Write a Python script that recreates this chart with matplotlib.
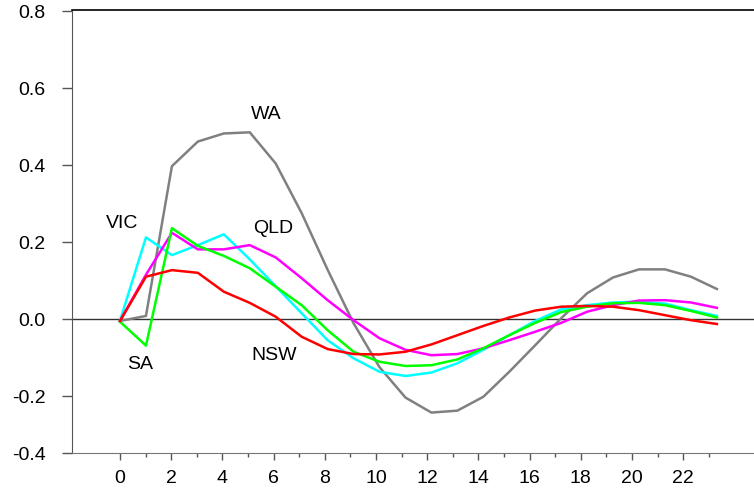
import matplotlib.pyplot as plt
import numpy as np

plt.rcParams['font.family'] = ['Liberation Sans', 'DejaVu Sans']

# horizon 0..23
horizon = np.arange(24)

wa = [-0.005, 0.008, 0.397, 0.461, 0.482, 0.485, 0.404, 0.275, 0.128, -0.011,
      -0.125, -0.204, -0.243, -0.238, -0.202, -0.137, -0.068, 0.002, 0.067,
      0.108, 0.129, 0.129, 0.11, 0.078]
vic = [-0.004, 0.212, 0.166, 0.192, 0.22, 0.155, 0.085, 0.015, -0.055, -0.102,
       -0.137, -0.148, -0.139, -0.115, -0.08, -0.042, -0.005, 0.025, 0.036,
       0.043, 0.045, 0.04, 0.023, 0.008]
sa = [-0.007, -0.069, 0.236, 0.19, 0.164, 0.132, 0.084, 0.036, -0.029, -0.085,
      -0.111, -0.122, -0.12, -0.105, -0.076, -0.042, -0.01, 0.018, 0.032,
      0.041, 0.042, 0.036, 0.021, 0.004]
qld = [-0.005, 0.115, 0.224, 0.181, 0.181, 0.192, 0.16, 0.106, 0.049, -0.003,
       -0.05, -0.08, -0.094, -0.091, -0.076, -0.055, -0.033, -0.01, 0.019,
       0.036, 0.048, 0.049, 0.043, 0.029]
nsw = [-0.005, 0.11, 0.127, 0.12, 0.071, 0.042, 0.006, -0.046, -0.078, -0.091,
       -0.092, -0.085, -0.066, -0.042, -0.018, 0.004, 0.022, 0.032, 0.034,
       0.032, 0.023, 0.01, -0.003, -0.013]

series = [
    (wa, '#808080'),
    (vic, '#00ffff'),
    (qld, '#ff00ff'),
    (sa, '#00ff00'),
    (nsw, '#ff0000'),
]

labels = [('WA', 5.65, 0.53), ('VIC', 0.07, 0.249), ('QLD', 5.91, 0.236),
          ('SA', 0.77, -0.119), ('NSW', 5.95, -0.096)]

tick_labels = np.arange(0, 24)
tick_scale = 25.6 / 25.95

fig = plt.figure(figsize=(7.54, 5.0), dpi=100)
ax = fig.add_axes([72 / 754, 47 / 500, 1 - 72 / 754, (453 - 9.5) / 500])

ax.axhline(0, color='#333333', lw=1.0, zorder=1)
for vals, col in series:
    ax.plot(horizon, vals, color=col, lw=1.8, zorder=2)

for name, x, y in labels:
    ax.text(x, y, name, fontsize=14, ha='center', va='center')

ax.set_xlim(-1.85, 24.43)
ax.set_ylim(-0.348, 0.804)

ax.set_xticks(tick_labels[::2] * tick_scale)
ax.set_xticklabels([str(t) for t in tick_labels[::2]])
ax.set_xticks(tick_labels[1::2] * tick_scale, minor=True)
ax.tick_params(axis='x', which='major', length=5, width=1, color='#555555',
               labelsize=14, pad=7)
ax.tick_params(axis='x', which='minor', length=3, width=1, color='#555555')

ax.set_yticks([-0.348, -0.2, 0.0, 0.2, 0.4, 0.6, 0.8])
ax.set_yticklabels(['-0.4', '-0.2', '0.0', '0.2', '0.4', '0.6', '0.8'])
ax.tick_params(axis='y', length=7, width=1, color='#555555', labelsize=14, pad=12)

ax.spines['right'].set_visible(False)
ax.spines['top'].set_color('black')
ax.spines['top'].set_linewidth(1.2)
ax.spines['left'].set_color('#555555')
ax.spines['bottom'].set_color('#777777')

fig.savefig('out.png', dpi=100)
